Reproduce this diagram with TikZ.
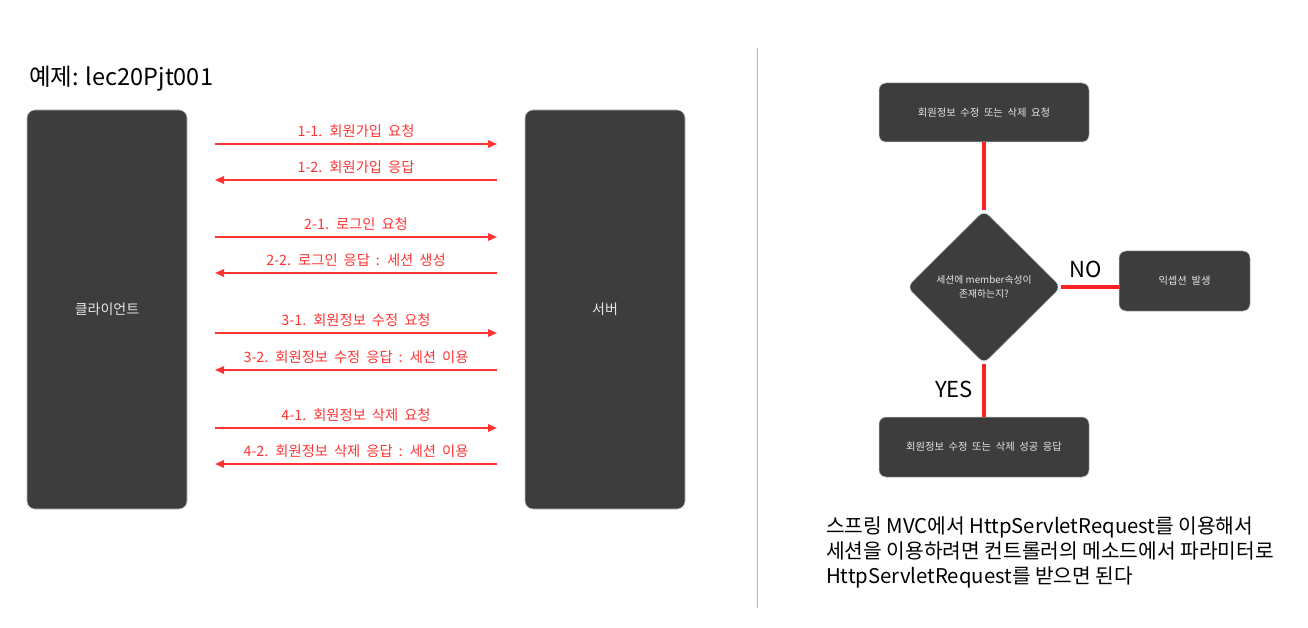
\documentclass[tikz,border=0pt]{standalone}
\usepackage{fontspec}
\setmainfont{Noto Sans CJK KR}
\usetikzlibrary{arrows.meta,shapes.geometric}
\definecolor{boxgray}{HTML}{3D3D3D}
\definecolor{edgegray}{HTML}{BDBDBD}
\definecolor{boxtext}{HTML}{E6E6E6}
\definecolor{arrred}{HTML}{FF3333}
\definecolor{flowred}{HTML}{FF2222}
\definecolor{divider}{HTML}{A3BCD6}
\newcommand\msgfontx{\fontsize{14.3}{16}\selectfont\spaceskip=0.42em plus 0.1em\relax}
\newcommand\fboxfontx{\fontsize{10.3}{12}\selectfont\spaceskip=0.45em plus 0.1em\relax}
\begin{document}
\begin{tikzpicture}[x=1pt,y=-1pt,
  bigbox/.style={draw=edgegray, line width=0.6pt, fill=boxgray, rounded corners=8pt,
    text=boxtext, font=\fontsize{14}{16}\selectfont, minimum width=160pt,
    minimum height=399pt, inner sep=0pt},
  msg/.style={draw=arrred, line width=1.6pt, -{Triangle[length=9pt,width=7.5pt]}},
  msglbl/.style={text=arrred, font=\msgfontx, inner sep=0pt},
  fbox/.style={draw=edgegray, line width=0.5pt, fill=boxgray, rounded corners=7pt,
    text=boxtext, font=\fboxfontx, inner sep=0pt},
  flow/.style={draw=flowred, line width=3.6pt},
  yesno/.style={font=\fontsize{22}{24}\selectfont, inner sep=0pt}
]
\useasboundingbox (0,0) rectangle (1308,628);

% title
\node[anchor=west, font=\fontsize{23.5}{26}\selectfont, inner sep=0pt] (title) at (29,79) {예제: lec20Pjt001};

% client and server
\node[bigbox] (client) at (107,309.5) {클라이언트};
\node[bigbox] (server) at (605,309.5) {서버};

% message arrow endpoints
\foreach \n/\y in {1/144,2/180,3/237,4/273,5/333,6/370,7/428,8/464}{
  \coordinate (L\n) at (215,\y);
  \coordinate (R\n) at (497,\y);
}
\draw[msg] (L1) -- (R1) node[msglbl, midway, above=6pt] (m1) {1-1. 회원가입 요청};
\draw[msg] (R2) -- (L2) node[msglbl, midway, above=6pt] (m2) {1-2. 회원가입 응답};
\draw[msg] (L3) -- (R3) node[msglbl, midway, above=6pt] (m3) {2-1. 로그인 요청};
\draw[msg] (R4) -- (L4) node[msglbl, midway, above=6pt] (m4) {2-2. 로그인 응답 : 세션 생성};
\draw[msg] (L5) -- (R5) node[msglbl, midway, above=6pt] (m5) {3-1. 회원정보 수정 요청};
\draw[msg] (R6) -- (L6) node[msglbl, midway, above=6pt] (m6) {3-2. 회원정보 수정 응답 : 세션 이용};
\draw[msg] (L7) -- (R7) node[msglbl, midway, above=6pt] (m7) {4-1. 회원정보 삭제 요청};
\draw[msg] (R8) -- (L8) node[msglbl, midway, above=6pt] (m8) {4-2. 회원정보 삭제 응답 : 세션 이용};

% divider
\coordinate (dtop) at (757,48);
\coordinate (dbot) at (757,608);
\draw[divider, line width=1pt] (dtop) -- (dbot);

% flowchart
\node[fbox, minimum width=210pt, minimum height=59pt] (req) at (984,112.5) {회원정보 수정 또는 삭제 요청};
\node[diamond, draw=edgegray, line width=0.5pt, fill=boxgray, rounded corners=7pt, text=boxtext,
  font=\fontsize{9.8}{14}\selectfont, align=center, inner sep=0pt,
  minimum width=154pt, minimum height=153pt] (chk) at (984,287) {세션에 member속성이\\존재하는지?};
\node[fbox, minimum width=131pt, minimum height=60pt] (exc) at (1184.5,281) {익셉션 발생};
\node[fbox, minimum width=210pt, minimum height=60pt] (ok) at (984,447) {회원정보 수정 또는 삭제 성공 응답};

\draw[flow] (req.south) -- (chk.north);
\draw[flow] (chk.east) -- (chk.east -| exc.west);
\draw[flow] (chk.south) -- (ok.north);
\node[yesno] (no) at (1086,269) {NO};
\node[yesno] (yes) at (954,389) {YES};

% note
\node[anchor=north west, align=left, inner sep=0pt, font=\fontsize{20.3}{25}\selectfont] (note) at (826,517)
  {스프링 MVC에서 HttpServletRequest를 이용해서\\세션을 이용하려면 컨트롤러의 메소드에서 파라미터로\\HttpServletRequest를 받으면 된다};
\end{tikzpicture}
\end{document}
